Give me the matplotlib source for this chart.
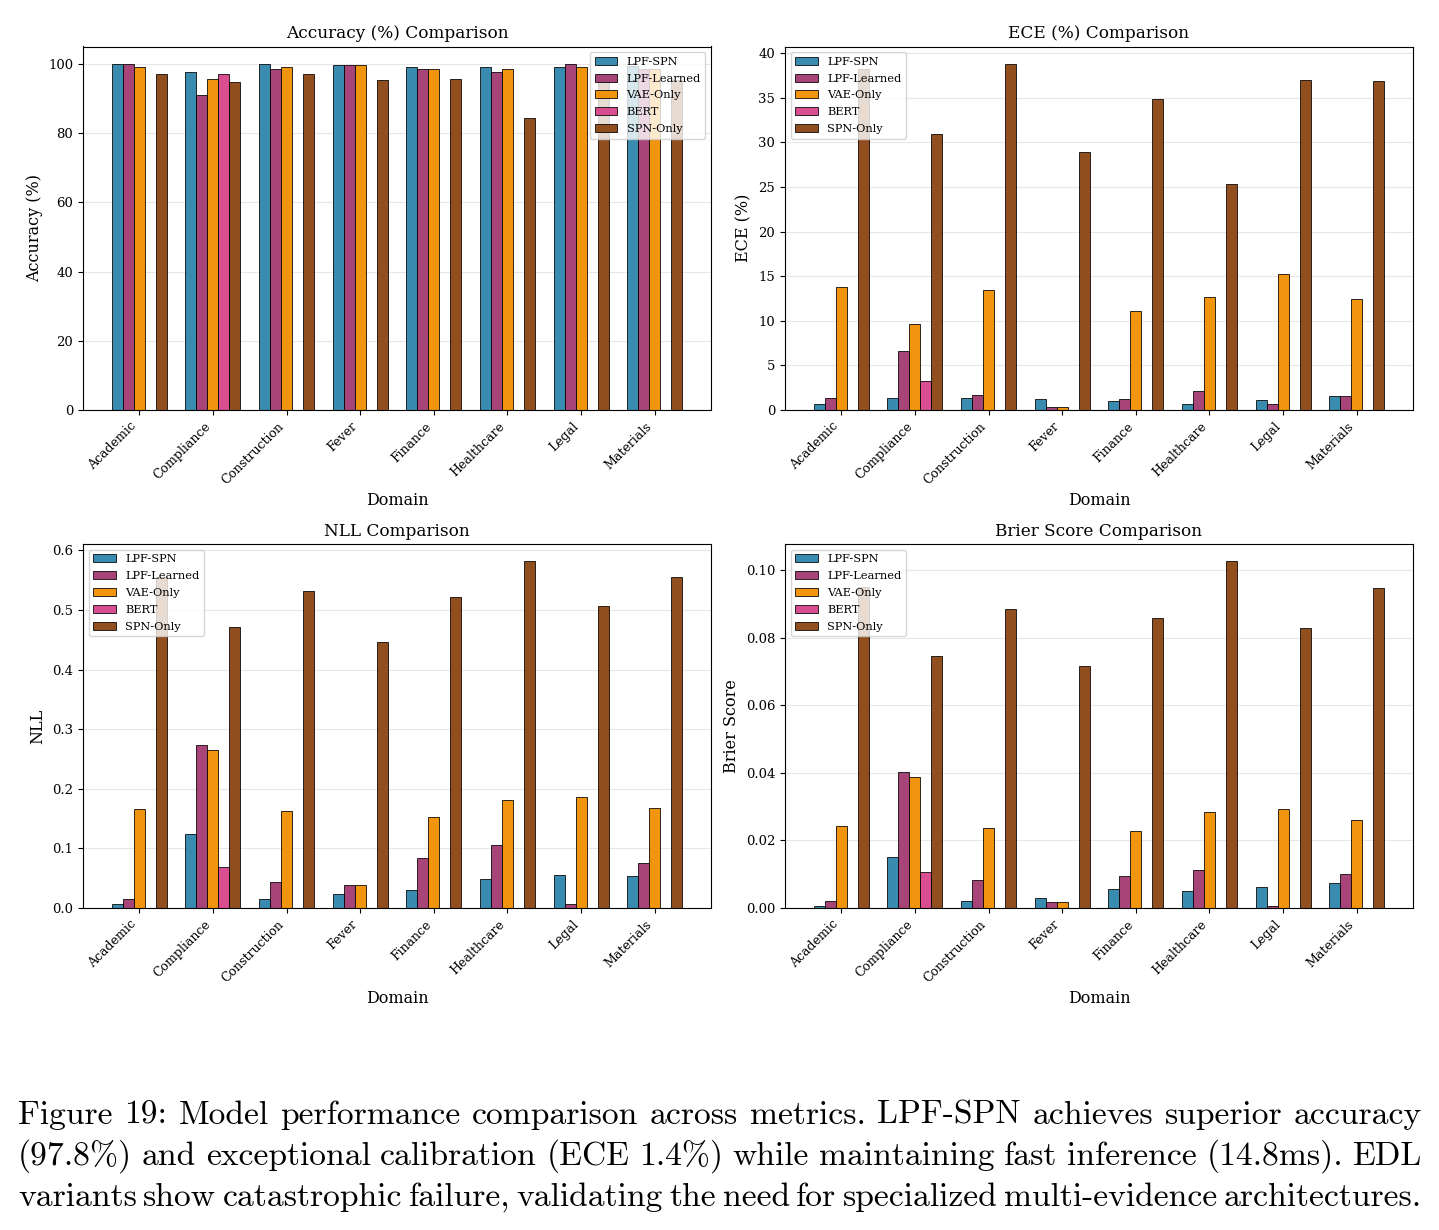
import numpy as np
import matplotlib
matplotlib.use("Agg")
import matplotlib.pyplot as plt

plt.rcParams["font.family"] = "DejaVu Serif"

# Data
domains = ["Academic", "Compliance", "Construction", "Fever",
           "Finance", "Healthcare", "Legal", "Materials"]
models = ["LPF-SPN", "LPF-Learned", "VAE-Only", "BERT", "SPN-Only"]
colors = ["#2E86AB", "#A23B72", "#F18F01", "#D6448A", "#8B4513"]

accuracy = {
    "LPF-SPN":     [100.0, 97.7, 100.0, 99.7, 99.2, 99.2, 99.2, 99.4],
    "LPF-Learned": [100.0, 91.0, 98.6, 99.7, 98.6, 97.7, 100.0, 98.5],
    "VAE-Only":    [99.2, 95.6, 99.2, 99.7, 98.6, 98.6, 99.2, 98.5],
    "BERT":        [0, 97.1, 0, 0, 0, 0, 0, 0],
    "SPN-Only":    [97.1, 94.8, 97.1, 95.2, 95.6, 84.4, 95.3, 95.2],
}
ece = {
    "LPF-SPN":     [0.64, 1.35, 1.35, 1.20, 0.97, 0.64, 1.09, 1.54],
    "LPF-Learned": [1.35, 6.60, 1.65, 0.30, 1.27, 2.17, 0.64, 1.54],
    "VAE-Only":    [13.8, 9.6, 13.4, 0.30, 11.05, 12.7, 15.2, 12.4],
    "BERT":        [0, 3.2, 0, 0, 0, 0, 0, 0],
    "SPN-Only":    [38.2, 30.9, 38.8, 28.9, 34.8, 25.3, 37.0, 36.9],
}
nll = {
    "LPF-SPN":     [0.0067, 0.1245, 0.0157, 0.0240, 0.0297, 0.0488, 0.0555, 0.0544],
    "LPF-Learned": [0.0157, 0.2737, 0.0437, 0.0387, 0.0847, 0.1060, 0.0067, 0.0763],
    "VAE-Only":    [0.1655, 0.2653, 0.1620, 0.0390, 0.1530, 0.1810, 0.1856, 0.1677],
    "BERT":        [0, 0.0695, 0, 0, 0, 0, 0, 0],
    "SPN-Only":    [0.555, 0.4717, 0.532, 0.4464, 0.5216, 0.5816, 0.5064, 0.5552],
}
brier = {
    "LPF-SPN":     [0.0005, 0.0150, 0.0022, 0.0030, 0.0057, 0.0051, 0.0061, 0.0074],
    "LPF-Learned": [0.0022, 0.0403, 0.0084, 0.0019, 0.0094, 0.0111, 0.0005, 0.0102],
    "VAE-Only":    [0.0242, 0.0387, 0.0236, 0.0019, 0.0227, 0.0283, 0.0294, 0.0259],
    "BERT":        [0, 0.0108, 0, 0, 0, 0, 0, 0],
    "SPN-Only":    [0.0950, 0.0747, 0.0886, 0.0717, 0.0859, 0.1026, 0.0830, 0.0946],
}

panels = [
    (accuracy, "Accuracy (%) Comparison", "Accuracy (%)", "upper right"),
    (ece, "ECE (%) Comparison", "ECE (%)", "upper left"),
    (nll, "NLL Comparison", "NLL", "upper left"),
    (brier, "Brier Score Comparison", "Brier Score", "upper left"),
]

caption = [
    "Figure 19: Model performance comparison across metrics. LPF-SPN achieves superior accuracy",
    "(97.8%) and exceptional calibration (ECE 1.4%) while maintaining fast inference (14.8ms). EDL",
    "variants show catastrophic failure, validating the need for specialized multi-evidence architectures.",
]

W, H = 1439, 1230
fig = plt.figure(figsize=(W / 100, H / 100), dpi=100)

# axes boxes in pixels: left, top, right, bottom
boxes = [(83, 46.5, 711, 410), (785, 46.5, 1413, 410),
         (83, 544, 711, 908), (785, 544, 1413, 908)]

x = np.arange(len(domains))
width = 0.15

for (data, title, ylabel, loc), (l, t, r, b) in zip(panels, boxes):
    ax = fig.add_axes([l / W, 1 - b / H, (r - l) / W, (b - t) / H])
    for i, (m, c) in enumerate(zip(models, colors)):
        ax.bar(x + (i - 2) * width, data[m], width, label=m, color=c,
               alpha=0.95, edgecolor="black", linewidth=0.6)
    ax.set_title(title, fontsize=12.2)
    ax.set_xlabel("Domain", fontsize=11.5)
    ax.set_ylabel(ylabel, fontsize=11.5)
    ax.set_xticks(x)
    ax.set_xticklabels(domains, rotation=45, ha="right", fontsize=9)
    ax.tick_params(axis="y", labelsize=9.5)
    ax.legend(loc=loc, fontsize=8.2, labelspacing=0.6)
    ax.grid(True, axis="y", alpha=0.3)
    ax.set_axisbelow(True)

# justified caption in Computer Modern
renderer = fig.canvas.get_renderer()
x0, x1 = 18, 1422
baselines = [1124, 1165, 1206]
for line, yb in zip(caption, baselines):
    words = line.split(" ")
    texts = [fig.text(0, 1 - yb / H, w, fontsize=24.2, va="baseline",
                      family=["cmr10", "DejaVu Serif"]) for w in words]
    widths = [t.get_window_extent(renderer).width for t in texts]
    gap = (x1 - x0 - sum(widths)) / (len(words) - 1)
    pos = x0
    for t, w in zip(texts, widths):
        t.set_x(pos / W)
        pos += w + gap

fig.savefig("out.png", dpi=100)
